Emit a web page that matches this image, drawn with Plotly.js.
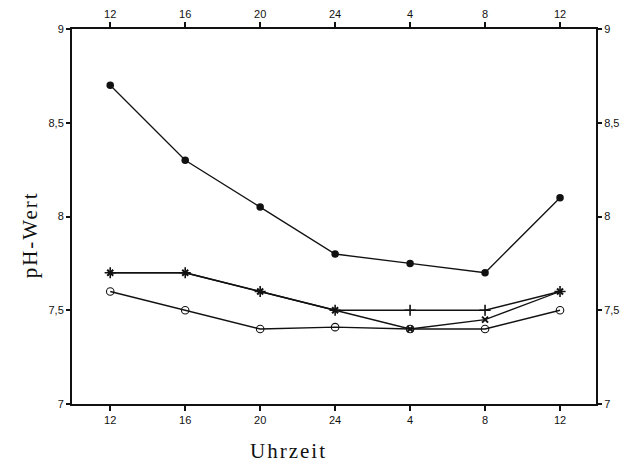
<!DOCTYPE html>
<html><head><meta charset="utf-8">
<script src="https://cdn.plot.ly/plotly-3.0.1.min.js"></script>
<style>html,body{margin:0;padding:0;background:#fff}
.annotation-text{letter-spacing:2px}</style>
</head><body>
<div id="chart" style="width:621px;height:464px"></div>
<script>
const timeLabels = ['12','16','20','24','4','8','12'];
const xIndex = [0,1,2,3,4,5,6];
const seriesFilled = [8.7, 8.3, 8.05, 7.8, 7.75, 7.7, 8.1];
const seriesPlus   = [7.7, 7.7, 7.6, 7.5, 7.5, 7.5, 7.6];
const seriesCross  = [7.7, 7.7, 7.6, 7.5, 7.4, 7.45, 7.6];
const seriesOpen   = [7.6, 7.5, 7.4, 7.41, 7.4, 7.4, 7.5];
const yTickVals = [7, 7.5, 8, 8.5, 9];
const yTickText = ['7', '7,5', '8', '8,5', '9'];
const xTitle = 'Uhrzeit';
const yTitle = 'pH-Wert';

const lineStyle = {color:'#111', width:1.3};
const traces = [
  {x:xIndex, y:seriesFilled, mode:'lines+markers', line:lineStyle,
   marker:{symbol:'circle', size:7.5, color:'#111'}},
  {x:xIndex, y:seriesCross, mode:'lines+markers', line:lineStyle,
   marker:{symbol:'x-thin', size:6, color:'#111', line:{color:'#111', width:2}}},
  {x:xIndex, y:seriesPlus, mode:'lines+markers', line:lineStyle,
   marker:{symbol:'cross-thin', size:8, color:'#111', line:{color:'#111', width:1.6}}},
  {x:xIndex, y:seriesOpen, mode:'lines+markers', line:lineStyle,
   marker:{symbol:'circle-open', size:7.5, color:'#111', line:{color:'#111', width:1.1}}},
  {x:[null], y:[null], xaxis:'x2', yaxis:'y2', mode:'markers', hoverinfo:'skip', showlegend:false}
];

const tickFont = {family:'"Liberation Sans", Arial, sans-serif', size:11, color:'#111'};
const titleFont = {family:'"Liberation Serif", "DejaVu Serif", serif', size:21, color:'#111'};
const xCommon = {range:[-0.51,6.48], tickmode:'array', tickvals:xIndex, ticktext:timeLabels,
  showgrid:false, zeroline:false, showline:true, linecolor:'#111', linewidth:2,
  ticks:'outside', ticklen:5, tickwidth:2, tickcolor:'#111', tickfont:tickFont, fixedrange:true};
const yCommon = {range:[7,9], tickmode:'array', tickvals:yTickVals, ticktext:yTickText,
  showgrid:false, zeroline:false, showline:true, linecolor:'#111', linewidth:2,
  ticks:'outside', ticklen:4, tickwidth:2, tickcolor:'#111', tickfont:tickFont, fixedrange:true};

const layout = {
  width:621, height:464,
  margin:{l:72, r:25, t:29, b:60},
  paper_bgcolor:'#fff', plot_bgcolor:'#fff',
  showlegend:false,
  xaxis:Object.assign({}, xCommon, {side:'bottom'}),
  xaxis2:Object.assign({}, xCommon, {side:'top', overlaying:'x', anchor:'y2'}),
  yaxis:Object.assign({}, yCommon, {side:'left'}),
  yaxis2:Object.assign({}, yCommon, {side:'right', overlaying:'y', anchor:'x2'}),
  annotations:[
    {text:xTitle, xref:'paper', yref:'paper', x:0.414, y:-0.125, xanchor:'center', yanchor:'middle',
     showarrow:false, font:titleFont},
    {text:yTitle, xref:'paper', yref:'paper', x:-0.080, y:0.45, xanchor:'center', yanchor:'middle',
     textangle:-90, showarrow:false, font:titleFont}
  ]
};

Plotly.newPlot('chart', traces, layout, {staticPlot:true, displayModeBar:false});
</script>
</body></html>
